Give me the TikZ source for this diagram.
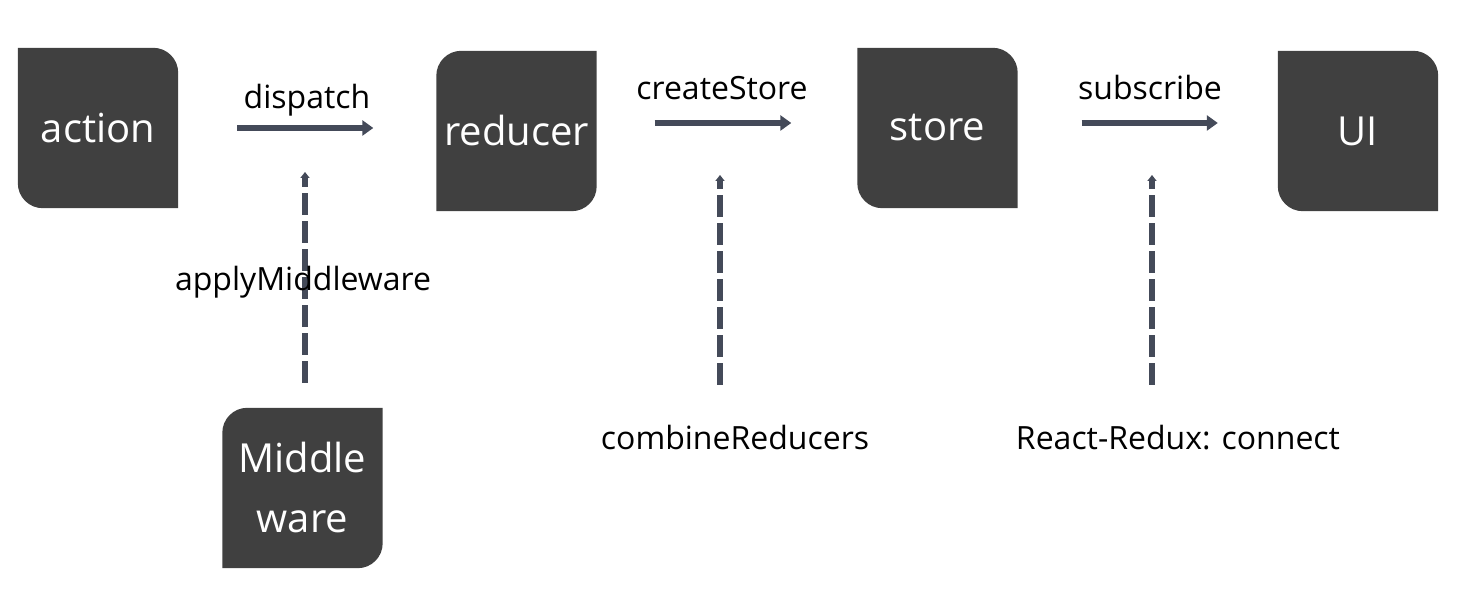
\documentclass[tikz,border=0pt]{standalone}
\usepackage{fontspec}
\setmainfont{Open Sans}
\usetikzlibrary{arrows.meta,backgrounds}
\definecolor{boxfill}{HTML}{404040}
\definecolor{arrowc}{HTML}{444A59}
\newcommand{\shapeTRBL}[1]{\fill[boxfill] (#1.north west) -- ([xshift=-25pt]#1.north east) arc[start angle=90,end angle=0,radius=25pt] -- (#1.south east) -- ([xshift=25pt]#1.south west) arc[start angle=270,end angle=180,radius=25pt] -- cycle;}
\newcommand{\shapeTLBR}[1]{\fill[boxfill] ([yshift=-25pt]#1.north west) arc[start angle=180,end angle=90,radius=25pt] -- (#1.north east) -- ([yshift=25pt]#1.south east) arc[start angle=0,end angle=-90,radius=25pt] -- (#1.south west) -- cycle;}
\tikzset{
  box/.style={minimum width=160pt, minimum height=160pt, inner sep=0pt, text=white, align=center, font=\fontsize{40}{60}\selectfont},
  lbl/.style={inner sep=0pt, text height=23pt, text depth=7pt, font=\fontsize{32}{38}\selectfont, text=black},
  flow/.style={draw=arrowc, line width=6pt, -{Triangle[width=15pt,length=11pt]}},
  dflow/.style={draw=arrowc, line width=5.5pt, dash pattern=on 22pt off 6pt, -{Triangle[width=9pt,length=6pt]}}
}
\begin{document}
\begin{tikzpicture}[x=1pt,y=1pt]
\useasboundingbox (0,0) rectangle (1473,594);
\node[box] (action) at (98,466) {action};
\node[box] (reducer) at (516.5,463) {reducer};
\node[box] (store) at (937.5,466) {store};
\node[box] (ui) at (1358,463) {UI};
\node[box] (mw) at (302.5,106) {Middle\\ware};
\begin{scope}[on background layer]
\shapeTRBL{action}
\shapeTLBR{reducer}
\shapeTRBL{store}
\shapeTRBL{ui}
\shapeTLBR{mw}
\end{scope}
% labels
\node[lbl] (ldispatch) at (307,493) {dispatch};
\node[lbl] (lcreate) at (722,502) {createStore};
\node[lbl] (lsub) at (1150,502) {subscribe};
\node[lbl] (lcr) at (735,152) {combineReducers};
\node[lbl] (lrr) at (1178,152) {React-Redux: connect};
% solid arrows
\draw[flow, shorten <=59pt, shorten >=63pt] (action.east) -- (action.east -| reducer.west);
\draw[flow, shorten <=58pt, shorten >=66pt] ([yshift=8pt]reducer.east) -- ([yshift=8pt]reducer.east -| store.west);
\draw[flow, shorten <=64pt, shorten >=60pt] ([yshift=5pt]store.east) -- ([yshift=5pt]store.east -| ui.west);
% dashed arrows
\coordinate (amTop) at (305,422);
\coordinate (crTop) at (720,419);
\coordinate (rrTop) at (1152,419);
\begin{scope}[on background layer]
\draw[dflow, shorten <=25pt] (amTop |- mw.north) -- (amTop);
\end{scope}
\draw[dflow, shorten <=42pt] (crTop |- lcr.north) -- (crTop);
\draw[dflow, shorten <=42pt] (rrTop |- lrr.north) -- (rrTop);
\node[lbl] (lam) at (303,311) {applyMiddleware};
\end{tikzpicture}
\end{document}
